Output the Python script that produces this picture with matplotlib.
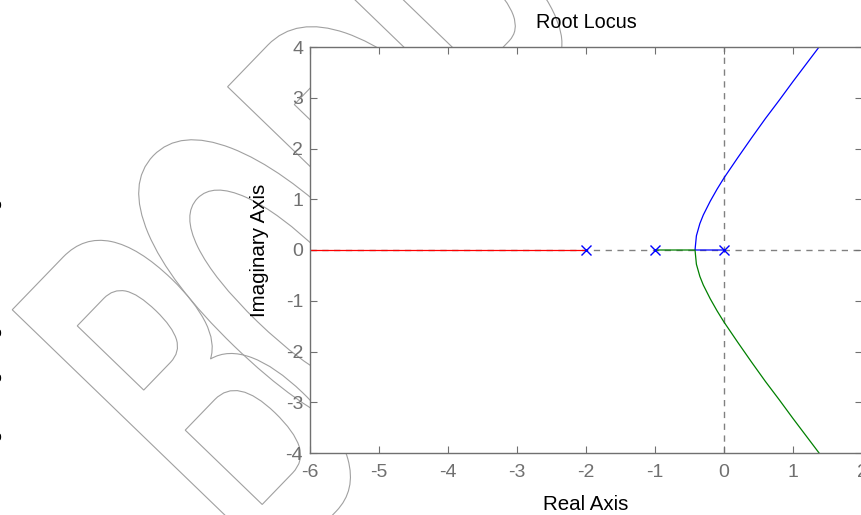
import numpy as np
import matplotlib
matplotlib.use('Agg')
import matplotlib.pyplot as plt
from matplotlib.textpath import TextPath
from matplotlib.font_manager import FontProperties
from matplotlib.patches import PathPatch
from matplotlib.transforms import Affine2D

# open-loop poles
poles_re = [-2.0, -1.0, 0.0]
poles_im = [0.0, 0.0, 0.0]

# branch starting at -2 (goes left along the real axis)
red_re = [-2.0, -6.5]
red_im = [0.0, 0.0]

# branch starting at 0 (breakaway near -0.42, then upper half)
blue_re = [0.0, -0.20, -0.42, -0.40, -0.35, -0.30, -0.20, -0.10, 0.0, 0.2, 0.4, 0.6, 0.8, 1.0, 1.2, 1.4]
blue_im = [0.0, 0.0, 0.0, 0.28, 0.52, 0.69, 0.96, 1.20, 1.42, 1.82, 2.21, 2.59, 2.95, 3.32, 3.68, 4.04]

# branch starting at -1 (breakaway near -0.42, then lower half)
green_re = [-1.0, -0.70, -0.42, -0.40, -0.35, -0.30, -0.20, -0.10, 0.0, 0.2, 0.4, 0.6, 0.8, 1.0, 1.2, 1.4]
green_im = [0.0, 0.0, 0.0, -0.28, -0.52, -0.69, -0.96, -1.20, -1.42, -1.82, -2.21, -2.59, -2.95, -3.32, -3.68, -4.04]

xticks = [-6, -5, -4, -3, -2, -1, 0, 1, 2]
yticks = [-4, -3, -2, -1, 0, 1, 2, 3, 4]

plt.rcParams['font.family'] = ['Liberation Sans', 'DejaVu Sans']
plt.rcParams['axes.unicode_minus'] = False
gray = '#707070'

fig = plt.figure(figsize=(8.61, 5.15), dpi=100)
ax = fig.add_axes([310 / 861, 62 / 515, 552 / 861, 406 / 515])

# watermark letters drawn as outlines behind the axes
fp = FontProperties(family='Liberation Sans', weight='bold')
capB = TextPath((0, 0), 'B', size=1, prop=fp).get_extents().y1
sy = 373 / capB
sx = 233
ang = 46
ox, oy = 12 + 373 * 0.72, 205 - 373 * 0.694
for ch, p in [('B', 0), ('O', 128), ('D', 310), ('R', 461)]:
    tp = TextPath((0, 0), ch, size=1, prop=fp)
    bb = tp.get_extents()
    tr = (Affine2D().translate(-bb.x0, 0).scale(sx, sy).rotate_deg(ang)
          .translate(ox + p * np.cos(np.radians(ang)), oy + p * np.sin(np.radians(ang))))
    patch = PathPatch(tp, transform=tr, fc='none', ec='#a0a0a0', lw=0.8, zorder=-5)
    fig.add_artist(patch)

# cut-off characters at the left edge
for yy in [205, 333, 378, 437]:
    fig.text(-3 / 861, 1 - yy / 515, 'o', fontsize=10, ha='center', va='center', color='black')

ax.axhline(0, color='#808080', lw=1, ls=(0, (4.5, 4)), zorder=1)
ax.axvline(0, color='#808080', lw=1, ls=(0, (4.5, 4)), zorder=1)

ax.plot(red_re, red_im, color='red', lw=0.9, zorder=2)
ax.plot(blue_re, blue_im, color='blue', lw=0.9, zorder=2)
ax.plot(green_re, green_im, color='green', lw=0.9, zorder=2)
ax.plot(poles_re, poles_im, 'x', color='blue', ms=7, mew=1, zorder=3)

ax.set_xlim(-6, 2)
ax.set_ylim(-4, 4)
ax.set_xticks(xticks)
ax.set_yticks(yticks)
ax.tick_params(direction='in', length=5, width=0.8, colors=gray, labelsize=14,
               top=True, right=True)
ax.tick_params(axis='x', pad=8)
ax.tick_params(axis='y', pad=5)
for s in ax.spines.values():
    s.set_color(gray)
    s.set_linewidth(1)

ax.set_title('Root Locus', fontsize=14.3, pad=14)
ax.set_xlabel('Real Axis', fontsize=14.8, labelpad=10)
ax.set_ylabel('Imaginary Axis', fontsize=14.8, labelpad=12)

fig.savefig('out.png', dpi=100)
